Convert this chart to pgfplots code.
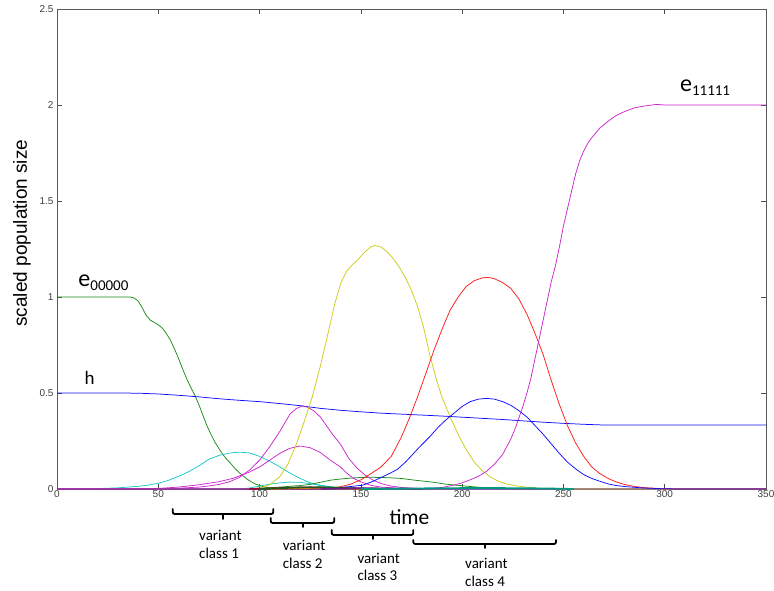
\documentclass[border=0pt]{standalone}
\usepackage{pgfplots}
\pgfplotsset{compat=1.18}
\usepackage{fontspec}
\setmainfont{Carlito}
\newfontfamily\arialf{Liberation Sans}
\definecolor{mb}{rgb}{0.05,0.05,1}
\definecolor{mg}{rgb}{0.1,0.55,0.1}
\definecolor{mr}{rgb}{1,0.1,0.1}
\definecolor{mc}{rgb}{0.1,0.78,0.78}
\definecolor{mm}{rgb}{0.8,0.15,0.8}
\definecolor{my}{rgb}{0.8,0.8,0.1}
\definecolor{mdr}{rgb}{0.6,0,0.2}
\definecolor{mor}{rgb}{0.9,0.5,0}
\definecolor{mdg}{rgb}{0.1,0.35,0.1}
\definecolor{mteal}{rgb}{0,0.6,0.5}
\definecolor{mpu}{rgb}{0.45,0.1,0.55}
\begin{document}
\begin{tikzpicture}
\useasboundingbox (0pt,0pt) rectangle (774pt,590pt);
\begin{axis}[
  at={(57pt,101pt)}, anchor=south west,
  scale only axis, width=709pt, height=480pt,
  xmin=0, xmax=350, ymin=0, ymax=2.5,
  enlargelimits=false, clip=false,
  xtick={0,50,...,350}, ytick={0,0.5,1,1.5,2,2.5},
  tick align=inside, major tick length=5pt,
  axis line style={draw=black!65, line width=0.8pt},
  tick style={draw=black!70, line width=0.7pt},
  ticklabel style={font=\arialf\fontsize{10}{12}\selectfont, text=black!75},
  xticklabel style={inner sep=1.5pt},
  /pgf/number format/assume math mode=true,
  every axis x label/.style={at={(rel axis cs:0.4687,-0.0735)}, anchor=base west, inner sep=0pt, font=\fontsize{21.5}{24}\selectfont},
  every axis y label/.style={at={(rel axis cs:-0.0494,0.533)}, anchor=center, rotate=90, inner sep=0pt, font=\arialf\fontsize{19}{22}\selectfont},
  xlabel={time}, ylabel={scaled population size},
  every axis plot/.append style={line width=0.75pt, line join=round, mark=none},
]
% green e00000
\addplot[mg] coordinates {(0,1) (36,1) (38,0.995) (40,0.98) (42,0.945) (44,0.905) (46,0.88) (48,0.868) (50,0.855) (52,0.838) (54,0.81) (56,0.775) (58,0.73) (60,0.68) (62,0.625) (64,0.575) (66,0.53) (68,0.49) (70,0.44) (72,0.385) (74,0.33) (76,0.285) (78,0.243) (80,0.21) (82,0.178) (84,0.152) (86,0.13) (88,0.105) (90,0.085) (92,0.067) (94,0.05) (96,0.037) (98,0.026) (100,0.018) (102,0.012) (106,0.005) (112,0.001) (120,0) (350,0)};
% blue h
\addplot[mb] coordinates {(0,0.5) (30,0.5) (40,0.499) (50,0.495) (60,0.488) (70,0.48) (80,0.47) (90,0.462) (100,0.455) (110,0.445) (120,0.434) (130,0.42) (140,0.41) (150,0.402) (160,0.395) (170,0.39) (180,0.385) (190,0.38) (200,0.374) (210,0.368) (220,0.362) (230,0.355) (240,0.348) (250,0.342) (260,0.337) (268,0.334) (275,0.333) (350,0.333)};
% cyan bump
\addplot[mc] coordinates {(0,0) (20,0.002) (30,0.006) (40,0.014) (45,0.02) (50,0.03) (55,0.045) (60,0.066) (65,0.09) (70,0.12) (75,0.155) (80,0.175) (85,0.187) (90,0.192) (95,0.188) (100,0.17) (105,0.145) (110,0.115) (115,0.083) (120,0.055) (125,0.033) (130,0.02) (135,0.012) (140,0.006) (150,0.002) (160,0) (350,0)};
% cyan small
\addplot[mc] coordinates {(0,0) (90,0) (95,0.005) (100,0.015) (105,0.025) (110,0.032) (115,0.036) (120,0.035) (125,0.028) (130,0.018) (135,0.01) (140,0.004) (150,0) (350,0)};
% green small
\addplot[mg] coordinates {(0,0) (90,0) (100,0.004) (110,0.01) (120,0.018) (125,0.024) (130,0.035) (135,0.046) (140,0.052) (145,0.057) (150,0.06) (155,0.061) (160,0.06) (165,0.058) (170,0.055) (175,0.048) (180,0.042) (186,0.035) (192,0.025) (199,0.018) (205,0.012) (210,0.008) (220,0.003) (230,0) (350,0)};
% magenta large bump
\addplot[mm] coordinates {(0,0) (50,0.001) (60,0.004) (70,0.01) (75,0.016) (80,0.024) (85,0.037) (90,0.06) (95,0.098) (100,0.15) (105,0.22) (110,0.3) (115,0.39) (118,0.418) (121,0.433) (124,0.425) (127,0.405) (130,0.375) (133,0.33) (136,0.285) (140,0.232) (144,0.16) (148,0.11) (152,0.073) (156,0.046) (160,0.028) (165,0.015) (170,0.008) (180,0.002) (190,0) (350,0)};
% magenta small bump
\addplot[mm] coordinates {(0,0) (50,0.003) (60,0.01) (70,0.022) (80,0.038) (87,0.056) (95,0.088) (100,0.115) (105,0.15) (110,0.186) (115,0.212) (120,0.224) (125,0.215) (130,0.19) (135,0.15) (140,0.114) (143,0.083) (146,0.058) (150,0.037) (155,0.019) (160,0.01) (170,0.003) (180,0) (350,0)};
% yellow
\addplot[my] coordinates {(0,0) (90,0) (95,0.002) (100,0.005) (105,0.022) (110,0.064) (114,0.13) (118,0.23) (122,0.35) (126,0.48) (130,0.64) (134,0.82) (137,0.96) (140,1.07) (143,1.135) (146,1.17) (149,1.2) (152,1.235) (155,1.262) (157,1.268) (160,1.26) (163,1.235) (166,1.2) (169,1.155) (172,1.1) (175,1.035) (178,0.95) (181,0.84) (184,0.7) (187,0.58) (190,0.48) (194,0.377) (198,0.285) (202,0.205) (206,0.14) (210,0.095) (214,0.062) (218,0.04) (222,0.026) (227,0.016) (232,0.009) (240,0.003) (250,0) (350,0)};
% red
\addplot[mr] coordinates {(0,0) (130,0) (135,0.005) (140,0.012) (145,0.025) (150,0.048) (155,0.08) (160,0.115) (165,0.17) (170,0.27) (174,0.37) (178,0.48) (182,0.6) (186,0.72) (190,0.83) (194,0.93) (198,1.0) (202,1.055) (206,1.085) (210,1.1) (213,1.102) (216,1.095) (220,1.075) (224,1.045) (228,0.99) (232,0.91) (236,0.81) (240,0.7) (244,0.565) (248,0.44) (252,0.33) (256,0.24) (260,0.17) (264,0.115) (268,0.08) (272,0.055) (276,0.037) (280,0.024) (285,0.013) (290,0.007) (300,0.001) (310,0) (350,0)};
% blue bump
\addplot[mb] coordinates {(0,0) (120,0) (130,0.003) (140,0.008) (145,0.013) (151,0.02) (156,0.04) (160,0.06) (164,0.08) (168,0.102) (172,0.14) (176,0.185) (180,0.23) (184,0.272) (188,0.32) (192,0.36) (196,0.395) (200,0.43) (204,0.455) (208,0.468) (212,0.472) (216,0.468) (220,0.455) (224,0.436) (228,0.408) (232,0.375) (236,0.33) (240,0.285) (244,0.235) (248,0.185) (252,0.14) (256,0.105) (260,0.075) (264,0.055) (268,0.04) (272,0.027) (276,0.018) (281,0.012) (290,0.005) (300,0.001) (310,0) (350,0)};
% magenta e11111
\addplot[mm] coordinates {(0,0) (180,0) (185,0.003) (190,0.008) (195,0.018) (200,0.032) (204,0.048) (208,0.066) (212,0.092) (216,0.13) (220,0.18) (224,0.26) (226,0.31) (228,0.37) (230,0.43) (232,0.5) (234,0.58) (236,0.68) (238,0.78) (240,0.88) (242,0.98) (244,1.08) (246,1.16) (248,1.26) (250,1.37) (252,1.46) (254,1.55) (256,1.64) (258,1.71) (260,1.76) (262,1.8) (264,1.83) (268,1.88) (272,1.915) (276,1.945) (280,1.965) (285,1.985) (290,1.995) (296,2.003) (300,2.0) (350,2.0)};
% small clutter near the bottom
\addplot[mdr, line width=1.6pt] coordinates {(95,0) (105,0.003) (115,0.007) (125,0.009) (135,0.007) (145,0.003) (155,0)};
\addplot[mor, line width=1.4pt] coordinates {(105,0) (115,0.002) (125,0.005) (130,0.006) (135,0.005) (145,0.002) (150,0)};
\addplot[mdg, line width=1.6pt] coordinates {(100,0) (110,0.004) (120,0.008) (130,0.009) (140,0.006) (150,0.003) (160,0)};
\addplot[mpu, line width=1.4pt] coordinates {(130,0) (140,0.003) (150,0.005) (160,0.004) (170,0.002) (180,0)};
\addplot[mteal, line width=1.8pt] coordinates {(150,0) (170,0.002) (190,0.004) (210,0.005) (230,0.004) (245,0.002) (255,0)};
\node[anchor=base west, inner sep=0pt, font=\fontsize{24}{24}\selectfont] at (axis cs:10.5,1.054) {e\raisebox{-4pt}{\fontsize{15}{15}\selectfont 00000}};
\node[anchor=base west, inner sep=0pt, font=\fontsize{24}{24}\selectfont] at (axis cs:307.5,2.069) {e\raisebox{-4pt}{\fontsize{15}{15}\selectfont 11111}};
\node[anchor=base west, inner sep=0pt, font=\fontsize{19}{19}\selectfont] at (axis cs:13.5,0.542) {h};
\end{axis}
% braces for the variant classes
\begin{scope}[line width=1.8pt, line cap=round, line join=round]
\draw[rounded corners=2pt] (172.7pt,81pt) -- (172.7pt,76pt) -- (273.3pt,76pt) -- (273.3pt,81pt);
\draw (222.7pt,76pt) -- (222.7pt,71pt);
\draw[rounded corners=2pt] (270.7pt,72pt) -- (270.7pt,67pt) -- (334.3pt,67pt) -- (334.3pt,72pt);
\draw (302.7pt,67pt) -- (302.7pt,63pt);
\draw[rounded corners=2pt] (331.7pt,60pt) -- (331.7pt,55pt) -- (413.3pt,55pt) -- (413.3pt,60pt);
\draw (372.7pt,55pt) -- (372.7pt,51pt);
\draw[rounded corners=2pt] (413.3pt,50pt) -- (413.3pt,46pt) -- (556pt,46pt) -- (556pt,50pt);
\draw (485pt,46pt) -- (485pt,42pt);
\end{scope}
\begin{scope}[every node/.style={anchor=base west, inner sep=0pt, font=\fontsize{15}{18}\selectfont}]
\node at (199pt,50pt) {variant};
\node at (199pt,32pt) {class 1};
\node at (282.7pt,40pt) {variant};
\node at (282.7pt,22pt) {class 2};
\node at (357.3pt,27pt) {variant};
\node at (357.3pt,10pt) {class 3};
\node at (465pt,21.5pt) {variant};
\node at (465pt,4pt) {class 4};
\end{scope}
\end{tikzpicture}
\end{document}
